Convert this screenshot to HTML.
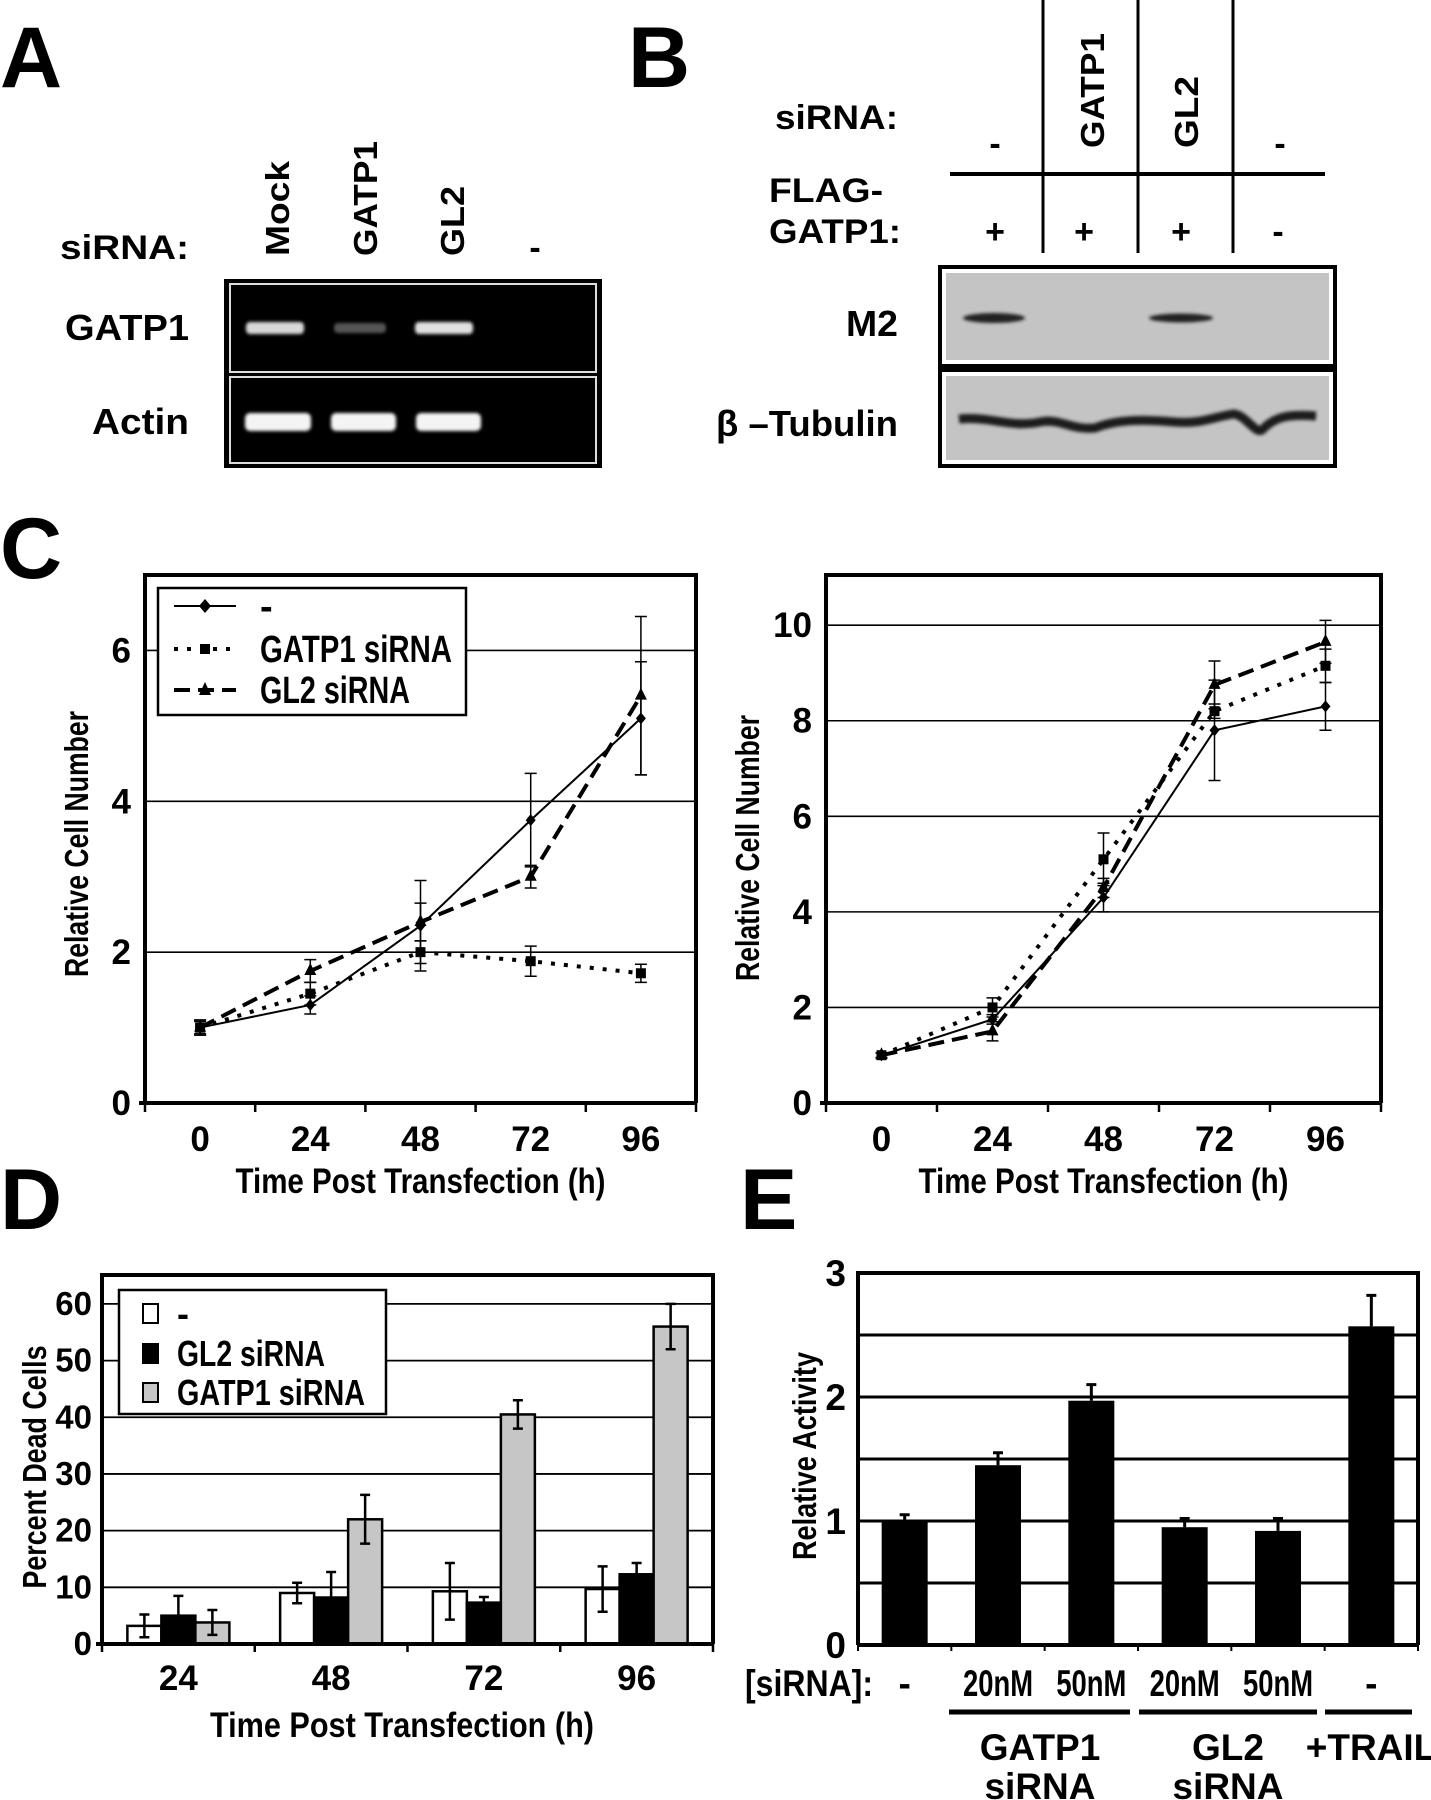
<!DOCTYPE html>
<html><head><meta charset="utf-8"><title>GATP1 siRNA figure</title>
<style>
html,body{margin:0;padding:0;background:#fff;}
svg{display:block;}
text{font-family:"Liberation Sans Narrow","Liberation Sans",sans-serif;font-weight:bold;fill:#000;}
.w{font-family:"Liberation Sans",sans-serif;}
</style></head>
<body>
<svg id="fig" xmlns="http://www.w3.org/2000/svg" width="1431" height="1800" viewBox="0 0 1431 1800">
<defs>
<filter id="blur2"><feGaussianBlur stdDeviation="2.5"/></filter>
<filter id="blur1"><feGaussianBlur stdDeviation="1.6"/></filter>
</defs>

<text class="w" x="0" y="87" font-size="86">A</text>
<text class="w" x="628" y="87" font-size="86">B</text>
<text class="w" x="0" y="578" font-size="86">C</text>
<text class="w" x="0" y="1229" font-size="86">D</text>
<text class="w" x="740" y="1229" font-size="86">E</text>

<g>
<text x="189" y="259" font-size="34" text-anchor="end" textLength="129" lengthAdjust="spacingAndGlyphs">siRNA:</text>
<text class="w" transform="translate(289,256) rotate(-90)" font-size="33" textLength="95" lengthAdjust="spacingAndGlyphs">Mock</text>
<text class="w" transform="translate(377,256) rotate(-90)" font-size="33" textLength="115" lengthAdjust="spacingAndGlyphs">GATP1</text>
<text class="w" transform="translate(464,256) rotate(-90)" font-size="33" textLength="70" lengthAdjust="spacingAndGlyphs">GL2</text>
<text x="535" y="259" font-size="34" text-anchor="middle">-</text>
<text x="189" y="340" font-size="36" text-anchor="end" textLength="124" lengthAdjust="spacingAndGlyphs">GATP1</text>
<text x="189" y="434" font-size="36" text-anchor="end" textLength="97" lengthAdjust="spacingAndGlyphs">Actin</text>
<rect x="224" y="279" width="378" height="189" fill="#000"/>
<rect x="230" y="284" width="366" height="88" fill="none" stroke="#ddd" stroke-width="2"/>
<rect x="230" y="377" width="366" height="86" fill="none" stroke="#ddd" stroke-width="2"/>
<rect x="226" y="374" width="374" height="2" fill="#000"/>
<g filter="url(#blur1)">
<rect x="246" y="322" width="58" height="12" rx="4" fill="#d8d8d8"/>
<rect x="334" y="323" width="52" height="10" rx="4" fill="#555"/>
<rect x="415" y="322" width="58" height="12" rx="4" fill="#e0e0e0"/>
<rect x="245" y="413" width="66" height="18" rx="5" fill="#f4f4f4"/>
<rect x="331" y="413" width="65" height="18" rx="5" fill="#f4f4f4"/>
<rect x="416" y="413" width="65" height="18" rx="5" fill="#f4f4f4"/>
</g>
</g>

<g>
<text x="898" y="129" font-size="34" text-anchor="end" textLength="123" lengthAdjust="spacingAndGlyphs">siRNA:</text>
<line x1="1043" y1="0" x2="1043" y2="253" stroke="#000" stroke-width="3"/>
<line x1="1138" y1="0" x2="1138" y2="253" stroke="#000" stroke-width="3"/>
<line x1="1233" y1="0" x2="1233" y2="253" stroke="#000" stroke-width="3"/>
<line x1="950" y1="174" x2="1325" y2="174" stroke="#000" stroke-width="4"/>
<text x="995" y="155" font-size="34" text-anchor="middle">-</text>
<text class="w" transform="translate(1104,148) rotate(-90)" font-size="33" textLength="115" lengthAdjust="spacingAndGlyphs">GATP1</text>
<text class="w" transform="translate(1198,148) rotate(-90)" font-size="33" textLength="72" lengthAdjust="spacingAndGlyphs">GL2</text>
<text x="1280" y="155" font-size="34" text-anchor="middle">-</text>
<text x="769" y="202" font-size="34" textLength="114" lengthAdjust="spacingAndGlyphs">FLAG-</text>
<text x="769" y="243" font-size="34" textLength="132" lengthAdjust="spacingAndGlyphs">GATP1:</text>
<text x="995" y="243" font-size="34" text-anchor="middle">+</text>
<text x="1084" y="243" font-size="34" text-anchor="middle">+</text>
<text x="1181" y="243" font-size="34" text-anchor="middle">+</text>
<text x="1278" y="243" font-size="34" text-anchor="middle">-</text>
<rect x="938" y="265" width="399" height="203" fill="#000"/>
<rect x="942" y="269" width="391" height="95" fill="#fff"/>
<rect x="942" y="372" width="391" height="92" fill="#fff"/>
<rect x="946" y="273" width="383" height="87" fill="#c4c4c4"/>
<rect x="946" y="376" width="383" height="84" fill="#c4c4c4"/>
<g filter="url(#blur1)">
<ellipse cx="994" cy="318" rx="31" ry="5" fill="#222"/>
<ellipse cx="1181" cy="318" rx="32" ry="4.5" fill="#222"/>
<path d="M959 419 C990 416 1010 428 1040 422 C1060 418 1070 430 1095 428 C1120 418 1150 420 1175 422 C1200 424 1210 418 1233 414 C1245 414 1255 434 1262 430 C1275 416 1290 414 1316 416" stroke="#1a1a1a" stroke-width="9" fill="none"/>
</g>
<text x="898" y="336" font-size="36" text-anchor="end" textLength="52" lengthAdjust="spacingAndGlyphs">M2</text>
<text x="898" y="436" font-size="36" text-anchor="end" textLength="182" lengthAdjust="spacingAndGlyphs">β –Tubulin</text>
</g>

<g id="chartC1"></g>
<g id="chartC2"></g>
<g id="chartD"></g>
<g id="chartE"></g>
</svg>

<script>
const timeLabels = ["0","24","48","72","96"];
const c1None = [1.0, 1.3, 2.35, 3.75, 5.1];
const c1NoneErr = [0.1, 0.12, 0.6, 0.62, 0.75];
const c1Gatp1 = [1.0, 1.45, 2.0, 1.88, 1.72];
const c1Gatp1Err = [0.1, 0.15, 0.15, 0.2, 0.12];
const c1Gl2 = [1.0, 1.75, 2.4, 3.0, 5.4];
const c1Gl2Err = [0.08, 0.15, 0.25, 0.15, 1.05];
const c1Ticks = [0, 2, 4, 6];

const c2None = [1.0, 1.75, 4.3, 7.8, 8.3];
const c2NoneErr = [0.05, 0.1, 0.3, 1.05, 0.5];
const c2Gatp1 = [1.0, 2.0, 5.1, 8.2, 9.15];
const c2Gatp1Err = [0.05, 0.2, 0.55, 0.15, 0.35];
const c2Gl2 = [1.0, 1.5, 4.5, 8.75, 9.65];
const c2Gl2Err = [0.05, 0.2, 0.2, 0.5, 0.45];
const c2Ticks = [0, 2, 4, 6, 8, 10];

const dCats = ["24","48","72","96"];
const dNone = [3.2, 9.0, 9.3, 9.7];
const dNoneErr = [2.0, 1.8, 5.0, 4.0];
const dGl2 = [5.0, 8.2, 7.3, 12.3];
const dGl2Err = [3.5, 4.5, 1.0, 2.0];
const dGatp1 = [3.8, 22.0, 40.5, 56.0];
const dGatp1Err = [2.2, 4.3, 2.5, 4.0];
const dTicks = [0,10,20,30,40,50,60];

const eCats = ["-","20nM","50nM","20nM","50nM","-"];
const eVals = [1.0, 1.45, 1.97, 0.95, 0.92, 2.57];
const eErr = [0.05, 0.1, 0.13, 0.07, 0.1, 0.25];
const eTicks = [0,1,2,3];

const NS = "http://www.w3.org/2000/svg";
function mk(parent, tag, attrs, txt){
  const el = document.createElementNS(NS, tag);
  for (const k in attrs) el.setAttribute(k, attrs[k]);
  if (txt !== undefined) el.textContent = txt;
  parent.appendChild(el);
  return el;
}

function lineChart(gid, cfg){
  const g = document.getElementById(gid);
  const L=cfg.left, R=cfg.right, T=cfg.top, B=cfg.bottom, ymax=cfg.ymax;
  const bw=(R-L)/timeLabels.length;
  const xs = i => L + bw*(i+0.5);
  const ys = v => B - (B-T)*v/ymax;
  cfg.ticks.forEach(t=>{
    if (t>0){
      const gl = mk(g,"line",{x1:L,x2:R,y1:ys(t),y2:ys(t),stroke:"#000","stroke-width":1.6});
      
      
    }
    const tl = mk(g,"text",{x:L-14,y:ys(t)+12,"font-size":35,"text-anchor":"end"},String(t));
    
    
  });
  const frame = mk(g,"path",{d:`M${L} ${B} L${L} ${T} L${R} ${T} L${R} ${B}`,fill:"none",stroke:"#000","stroke-width":4});
  
  
  const ax = mk(g,"line",{x1:L-6,x2:R,y1:B,y2:B,stroke:"#000","stroke-width":4});
  
  
  for(let i=0;i<=timeLabels.length;i++){
    mk(g,"line",{x1:L+bw*i,x2:L+bw*i,y1:B,y2:B+9,stroke:"#000","stroke-width":2.5});
  }
  timeLabels.forEach((lab,i)=>{
    const t = mk(g,"text",{x:xs(i),y:B+48,"font-size":35,"text-anchor":"middle"},lab);
    
    
  });
  const xt = mk(g,"text",{x:(L+R)/2,y:B+90,"font-size":35,"text-anchor":"middle",textLength:370,lengthAdjust:"spacingAndGlyphs"},"Time Post Transfection (h)");
  
  
  const yt = mk(g,"text",{class:"w",transform:`translate(${cfg.ytx},${cfg.yty}) rotate(-90)`,"font-size":33,"text-anchor":"middle",textLength:266,lengthAdjust:"spacingAndGlyphs"},"Relative Cell Number");
  
  

  const series = [
    {name:"series-none", v:cfg.none, e:cfg.noneErr, dash:"", w:2, mark:"diamond"},
    {name:"series-gatp1-sirna", v:cfg.gatp1, e:cfg.gatp1Err, dash:"4 9", w:4, mark:"square"},
    {name:"series-gl2-sirna", v:cfg.gl2, e:cfg.gl2Err, dash:"16 8", w:4, mark:"triangle"}
  ];
  series.forEach(s=>{
    const sg = mk(g,"g",{});
    
    
    s.v.forEach((v,i)=>{
      const x=xs(i), y1=ys(v+s.e[i]), y2=ys(v-s.e[i]);
      mk(sg,"path",{d:`M${x} ${y1} L${x} ${y2} M${x-6} ${y1} L${x+6} ${y1} M${x-6} ${y2} L${x+6} ${y2}`,stroke:"#000","stroke-width":1.5,fill:"none"});
    });
    const pts = s.v.map((v,i)=>`${xs(i)},${ys(v)}`).join(" ");
    const pl = mk(sg,"polyline",{points:pts,fill:"none",stroke:"#000","stroke-width":s.w,"stroke-dasharray":s.dash});
    
    
    s.v.forEach((v,i)=>{
      const x=xs(i), y=ys(v);
      let m;
      if(s.mark==="diamond") m = mk(sg,"path",{d:`M${x} ${y-6} L${x+5} ${y} L${x} ${y+6} L${x-5} ${y} Z`,fill:"#000"});
      else if(s.mark==="square") m = mk(sg,"rect",{x:x-5,y:y-5,width:10,height:10,fill:"#000"});
      else m = mk(sg,"path",{d:`M${x} ${y-8} L${x+6} ${y+4} L${x-6} ${y+4} Z`,fill:"#000"});
      
      
    });
  });
}

lineChart("chartC1",{left:145,right:696,top:575,bottom:1103,ymax:7,ticks:c1Ticks,
  none:c1None,noneErr:c1NoneErr,gatp1:c1Gatp1,gatp1Err:c1Gatp1Err,gl2:c1Gl2,gl2Err:c1Gl2Err,ytx:88,yty:844});
lineChart("chartC2",{left:826,right:1381,top:575,bottom:1103,ymax:11.05,ticks:c2Ticks,
  none:c2None,noneErr:c2NoneErr,gatp1:c2Gatp1,gatp1Err:c2Gatp1Err,gl2:c2Gl2,gl2Err:c2Gl2Err,ytx:759,yty:848});

(function(){
  const g = document.getElementById("chartC1");
  const lg = mk(g,"g",{});
  
  
  mk(lg,"rect",{x:158,y:588,width:308,height:127,fill:"#fff",stroke:"#000","stroke-width":2.5});
  const rows=[
    {y:606,label:"-",dash:"",w:2,mark:"d",tl:null},
    {y:649,label:"GATP1 siRNA",dash:"4 9",w:4,mark:"s",tl:192},
    {y:690,label:"GL2 siRNA",dash:"16 8",w:4,mark:"t",tl:150}
  ];
  rows.forEach(r=>{
    const e = mk(lg,"g",{});
    
    
    mk(e,"line",{x1:174,x2:236,y1:r.y,y2:r.y,stroke:"#000","stroke-width":r.w,"stroke-dasharray":r.dash});
    const x=205,y=r.y;
    if(r.mark==="d") mk(e,"path",{d:`M${x} ${y-7} L${x+6} ${y} L${x} ${y+7} L${x-6} ${y} Z`});
    else if(r.mark==="s") mk(e,"rect",{x:x-5,y:y-5,width:10,height:10});
    else mk(e,"path",{d:`M${x} ${y-8} L${x+6} ${y+5} L${x-6} ${y+5} Z`});
    const a = {x:260,y:r.y+13,"font-size":38,class:"w"};
    if(r.tl){a.textLength=r.tl;a.lengthAdjust="spacingAndGlyphs";}
    mk(e,"text",a,r.label);
  });
})();

(function(){
  const g = document.getElementById("chartD");
  const L=102,R=713,T=1275,B=1644,ymax=65.1;
  const bw=(R-L)/dCats.length, barW=34;
  const ys = v => B-(B-T)*v/ymax;
  const xb = (i,k) => L + bw*i + bw/2 + (k-1)*barW - barW/2;
  dTicks.forEach(t=>{
    if(t>0){
      const gl = mk(g,"line",{x1:L,x2:R,y1:ys(t),y2:ys(t),stroke:"#000","stroke-width":1.8});
      
      
    }
    const tl = mk(g,"text",{x:92,y:ys(t)+11,"font-size":33,"text-anchor":"end"},String(t));
    
    
  });
  const fr = mk(g,"path",{d:`M${L} ${B} L${L} ${T} L${R} ${T} L${R} ${B}`,fill:"none",stroke:"#000","stroke-width":4});
  
  
  const series=[{n:"bar-none",v:dNone,e:dNoneErr,f:"#fff"},{n:"bar-gl2-sirna",v:dGl2,e:dGl2Err,f:"#000"},{n:"bar-gatp1-sirna",v:dGatp1,e:dGatp1Err,f:"#c6c6c6"}];
  series.forEach((s,k)=>{
    s.v.forEach((v,i)=>{
      const x=xb(i,k);
      const r = mk(g,"rect",{x:x,y:ys(v),width:barW,height:B-ys(v),fill:s.f,stroke:"#000","stroke-width":2.5});
      
      
      const cx=x+barW/2, y1=ys(v+s.e[i]), y2=ys(v-s.e[i]);
      mk(g,"path",{d:`M${cx} ${y1} L${cx} ${y2} M${cx-5} ${y1} L${cx+5} ${y1} M${cx-5} ${y2} L${cx+5} ${y2}`,stroke:"#000","stroke-width":2.5,fill:"none"});
    });
  });
  const ax = mk(g,"line",{x1:L-6,x2:R,y1:B,y2:B,stroke:"#000","stroke-width":4});
  
  
  for(let i=0;i<=dCats.length;i++) mk(g,"line",{x1:L+bw*i,x2:L+bw*i,y1:B,y2:B+8,stroke:"#000","stroke-width":2.5});
  dCats.forEach((c,i)=>{
    const t = mk(g,"text",{x:L+bw*(i+0.5),y:1690,"font-size":35,"text-anchor":"middle"},c);
    
    
  });
  const xt = mk(g,"text",{x:402,y:1737,"font-size":35,"text-anchor":"middle",textLength:384,lengthAdjust:"spacingAndGlyphs"},"Time Post Transfection (h)");
  
  
  const yt = mk(g,"text",{class:"w",transform:"translate(46,1467) rotate(-90)","font-size":33,"text-anchor":"middle",textLength:243,lengthAdjust:"spacingAndGlyphs"},"Percent Dead Cells");
  
  
  const lg = mk(g,"g",{});
  
  
  mk(lg,"rect",{x:119,y:1290,width:267,height:124,fill:"#fff",stroke:"#000","stroke-width":2.5});
  [{y:1313,l:"-",f:"#fff",tl:null},{y:1353,l:"GL2 siRNA",f:"#000",tl:148},{y:1392,l:"GATP1 siRNA",f:"#c6c6c6",tl:188}].forEach(r=>{
    const e = mk(lg,"g",{});
    
    
    mk(e,"rect",{x:143,y:r.y-9,width:15,height:19,fill:r.f,stroke:"#000","stroke-width":2});
    const a={x:177,y:r.y+13,"font-size":36,class:"w"};
    if(r.tl){a.textLength=r.tl;a.lengthAdjust="spacingAndGlyphs";}
    mk(e,"text",a,r.l);
  });
})();

(function(){
  const g = document.getElementById("chartE");
  const L=858,R=1418,T=1273,B=1645,ymax=3;
  const bw=(R-L)/eCats.length, barW=46;
  const ys = v => B-(B-T)*v/ymax;
  for(let t=0.5;t<ymax;t+=0.5){
    const gl = mk(g,"line",{x1:L,x2:R,y1:ys(t),y2:ys(t),stroke:"#000","stroke-width":3});
    
    
  }
  eTicks.forEach(t=>{
    const tl = mk(g,"text",{x:846,y:ys(t)+13,"font-size":37,"text-anchor":"end"},String(t));
    
    
  });
  const fr = mk(g,"path",{d:`M${L} ${B} L${L} ${T} L${R} ${T} L${R} ${B}`,fill:"none",stroke:"#000","stroke-width":4});
  
  
  eVals.forEach((v,i)=>{
    const cx=L+bw*(i+0.5);
    const r = mk(g,"rect",{x:cx-barW/2,y:ys(v),width:barW,height:B-ys(v),fill:"#000"});
    
    
    const y1=ys(v+eErr[i]);
    mk(g,"path",{d:`M${cx} ${y1} L${cx} ${ys(v)} M${cx-5} ${y1} L${cx+5} ${y1}`,stroke:"#000","stroke-width":3,fill:"none"});
  });
  const ax = mk(g,"line",{x1:L,x2:R,y1:B,y2:B,stroke:"#000","stroke-width":4});
  
  
  for(let i=0;i<=eCats.length;i++) mk(g,"line",{x1:L+bw*i,x2:L+bw*i,y1:B,y2:B+6,stroke:"#000","stroke-width":2});
  eCats.forEach((c,i)=>{
    const a={x:L+bw*(i+0.5),y:1696,"font-size":37,"text-anchor":"middle"};
    if(c.length>1){a.textLength=70;a.lengthAdjust="spacingAndGlyphs";}
    const t = mk(g,"text",a,c);
    
    
  });
  const sl = mk(g,"text",{x:745,y:1696,"font-size":37,textLength:128,lengthAdjust:"spacingAndGlyphs"},"[siRNA]:");
  
  
  [[949,1130],[1139,1317],[1325,1412]].forEach(p=>mk(g,"line",{x1:p[0],x2:p[1],y1:1712,y2:1712,stroke:"#000","stroke-width":5}));
  [["GATP1",1040,1760,"group-gatp1"],["siRNA",1040,1799,"group-gatp1-sirna"],["GL2",1228,1760,"group-gl2"],["siRNA",1228,1799,"group-gl2-sirna"],["+TRAIL",1371,1760,"group-trail"]].forEach(a=>{
    const t = mk(g,"text",{x:a[1],y:a[2],"font-size":37,"text-anchor":"middle"},a[0]);
    
    
  });
  const yt = mk(g,"text",{class:"w",transform:"translate(816,1456) rotate(-90)","font-size":33,"text-anchor":"middle",textLength:208,lengthAdjust:"spacingAndGlyphs"},"Relative Activity");
  
  
})();
</script>
</body></html>
